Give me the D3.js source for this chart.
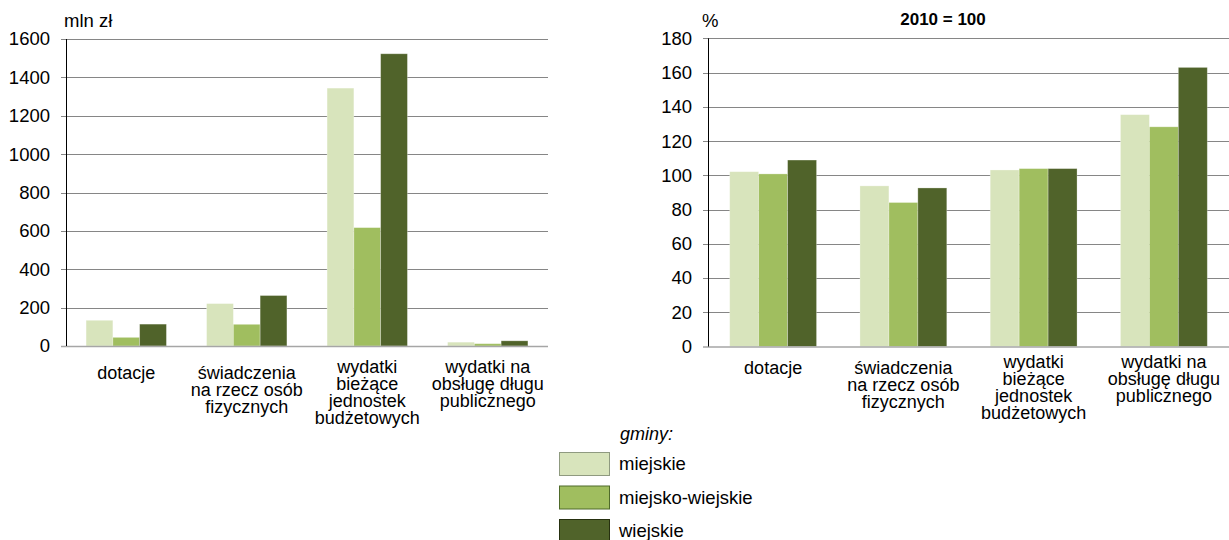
<!DOCTYPE html>
<html>
<head>
  <meta charset="utf-8">
  <title>Wydatki gmin</title>
  <style>
    body { margin: 0; background: #fff; }
    text { font-family: "Liberation Sans", Arial, sans-serif; fill: #000; }
    .grid line { stroke: #868686; stroke-width: 1px; }
    .tick-label { font-size: 18.5px; }
    .cat-label { font-size: 18px; }
  </style>
</head>
<body>
  <svg width="1229" height="540"></svg>
  <script src="https://d3js.org/d3.v7.min.js"></script>
  <script>
    // Data
    const categories = [
      ["dotacje"],
      ["świadczenia", "na rzecz osób", "fizycznych"],
      ["wydatki", "bieżące", "jednostek", "budżetowych"],
      ["wydatki na", "obsługę długu", "publicznego"]
    ];
    const series = ["miejskie", "miejsko-wiejskie", "wiejskie"];
    const colors = ["#d8e4bc", "#a0be5f", "#50632a"];
    const swatchStroke = ["#8f9a80", "#4f6a2a", "#26300f"];

    // mln zł
    const valuesMln = [
      [134, 45, 114],
      [221, 113, 263],
      [1344, 617, 1523],
      [20, 12, 27]
    ];
    // 2010 = 100
    const valuesIdx = [
      [102.1, 100.8, 108.9],
      [93.8, 84.1, 92.6],
      [103.1, 103.9, 103.9],
      [135.4, 128.3, 163.0]
    ];
    const ticksMln = [0, 200, 400, 600, 800, 1000, 1200, 1400, 1600];
    const ticksIdx = [0, 20, 40, 60, 80, 100, 120, 140, 160, 180];

    const svg = d3.select("svg");

    function drawChart(opts) {
      const x = d3.scaleBand()
        .domain(d3.range(categories.length))
        .range([opts.x0, opts.x1])
        .paddingInner(1 / 3)
        .paddingOuter(1 / 6);
      const xs = d3.scaleBand()
        .domain(d3.range(series.length))
        .range([0, x.bandwidth()]);
      const y = d3.scaleLinear()
        .domain([0, opts.max])
        .range([opts.yBottom, opts.yTop]);

      const g = svg.append("g");

      // gridlines + tick labels
      const grid = g.append("g").attr("class", "grid");
      grid.selectAll("line")
        .data(opts.ticks.filter(d => d > 0))
        .enter().append("line")
        .attr("x1", opts.x0 - 5)
        .attr("x2", opts.x1)
        .attr("y1", d => Math.round(y(d)) + 0.5)
        .attr("y2", d => Math.round(y(d)) + 0.5);

      g.selectAll(".tick-label")
        .data(opts.ticks)
        .enter().append("text")
        .attr("class", "tick-label")
        .attr("x", opts.x0 - 16)
        .attr("y", d => y(d))
        .attr("dy", "0.35em")
        .attr("text-anchor", "end")
        .text(d => d);

      // bars
      const groups = g.selectAll(".grp")
        .data(opts.values)
        .enter().append("g")
        .attr("class", "grp")
        .attr("transform", (d, i) => `translate(${x(i)},0)`);

      groups.selectAll("rect")
        .data(d => d)
        .enter().append("rect")
        .attr("x", (d, j) => xs(j))
        .attr("width", xs.bandwidth())
        .attr("y", d => y(d))
        .attr("height", d => y(0) - y(d))
        .attr("fill", (d, j) => colors[j])
        .attr("stroke", "#fff")
        .attr("stroke-opacity", 0.35)
        .attr("stroke-width", 0.8);

      // baseline and y axis
      g.append("line")
        .attr("x1", opts.x0 - 5).attr("x2", opts.x1)
        .attr("y1", y(0) + 0.5).attr("y2", y(0) + 0.5)
        .attr("stroke", "#a6a6a6").attr("stroke-width", 1.5);
      g.append("line")
        .attr("x1", opts.x0 + 0.5).attr("x2", opts.x0 + 0.5)
        .attr("y1", y(opts.max)).attr("y2", y(0))
        .attr("stroke", "#000").attr("stroke-width", 1);

      // category labels (long labels sit a little higher, as in the original)
      g.selectAll(".cat-label")
        .data(categories)
        .enter().append("text")
        .attr("class", "cat-label")
        .attr("text-anchor", "middle")
        .attr("transform", (d, i) =>
          `translate(${x(i) + x.bandwidth() / 2},${opts.labelY[i]})`)
        .selectAll("tspan")
        .data(d => d)
        .enter().append("tspan")
        .attr("x", 0)
        .attr("y", (d, k) => k * 17)
        .text(d => d);

      // unit
      g.append("text")
        .attr("x", opts.unitX)
        .attr("y", 27)
        .style("font-size", "18.5px")
        .text(opts.unit);
    }

    drawChart({
      x0: 66, x1: 548, yBottom: 346, yTop: 39,
      max: 1600, ticks: ticksMln, values: valuesMln,
      unit: "mln zł", unitX: 64,
      labelY: [379, 379, 373, 373]
    });

    drawChart({
      x0: 708, x1: 1229, yBottom: 346.5, yTop: 38.3,
      max: 180, ticks: ticksIdx, values: valuesIdx,
      unit: "%", unitX: 702,
      labelY: [374, 374, 368, 368]
    });

    svg.append("text")
      .attr("x", 943)
      .attr("y", 25)
      .attr("text-anchor", "middle")
      .style("font-size", "17px")
      .style("font-weight", "bold")
      .text("2010 = 100");

    // legend
    const legend = svg.append("g");
    legend.append("text")
      .attr("x", 620)
      .attr("y", 440)
      .style("font-size", "18px")
      .style("font-style", "italic")
      .text("gminy:");

    const item = legend.selectAll(".item")
      .data(series)
      .enter().append("g")
      .attr("class", "item")
      .attr("transform", (d, i) => `translate(559,${452 + i * 33.5})`);

    item.append("rect")
      .attr("x", 0.5).attr("y", 0.5)
      .attr("width", 50).attr("height", 23)
      .attr("fill", (d, i) => colors[i])
      .attr("stroke", (d, i) => swatchStroke[i])
      .attr("stroke-width", 1);

    item.append("text")
      .attr("x", 60)
      .attr("y", 12)
      .attr("dy", "0.35em")
      .style("font-size", "18.5px")
      .text(d => d);
  </script>
</body>
</html>
